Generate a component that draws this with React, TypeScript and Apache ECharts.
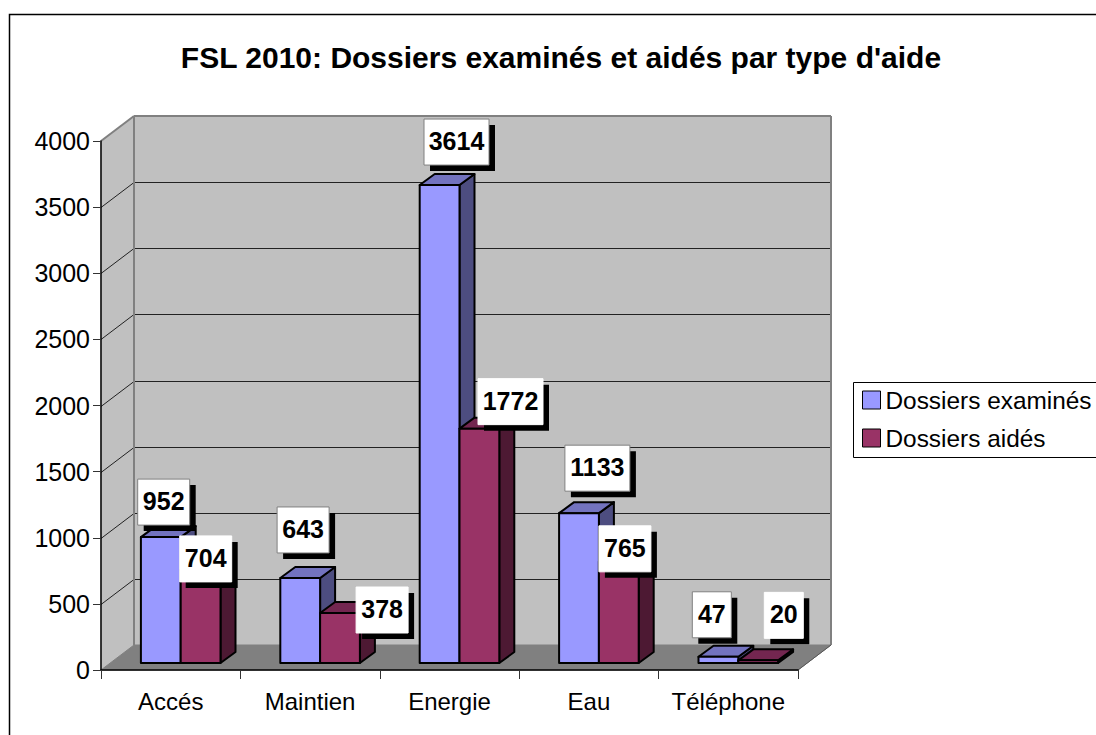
import React, { useEffect, useRef } from "react";
import * as echarts from "echarts";

const titleText = "FSL 2010: Dossiers examinés et aidés par type d'aide";
const categories = ["Accés", "Maintien", "Energie", "Eau", "Téléphone"];
const seriesNames = ["Dossiers examinés", "Dossiers aidés"];
const examined = [952, 643, 3614, 1133, 47];
const aided = [704, 378, 1772, 765, 20];
const yTicks = [500, 1000, 1500, 2000, 2500, 3000, 3500, 4000];

// Hand-placed data label boxes, relative to (category centre, value height)
const examinedLabelOffsets = [[-33, -65], [-33, -78], [-25.5, -73], [-24, -75], [-36, -72]];
const aidedLabelOffsets = [[9, -41], [46, -33], [28.5, -57], [10, -43], [36, -75]];

const FONT = '"Liberation Sans", Arial, sans-serif';
const WALL = [33, -25];
const BAR_FRONT = [10, -7];
const BAR_DEPTH = [15, -11];

const faces = [
  { front: "#9999FF", top: "#7373BF", side: "#4D4D80" },
  { front: "#993366", top: "#732650", side: "#4D1933" },
];

function poly(points: number[][], fill: string, stroke?: string, lineWidth = 1) {
  return {
    type: "polygon",
    shape: { points },
    style: { fill, stroke: stroke ?? fill, lineWidth, lineJoin: "round" },
  };
}

function line(a: number[], b: number[], stroke: string, lineWidth = 1) {
  return {
    type: "line",
    shape: { x1: a[0], y1: a[1], x2: b[0], y2: b[1] },
    style: { stroke, lineWidth },
  };
}

function renderFrame(_: any, api: any) {
  const size = api.size([1, 0])[0];
  const c0 = api.coord([0, 0]);
  const c4000 = api.coord([0, 4000]);
  const left = c0[0] - size / 2;
  const right = left + size * categories.length;
  const y0 = c0[1];
  const yTop = c4000[1];
  const [dx, dy] = WALL;
  const children: any[] = [
    poly([[left, y0], [left + dx, y0 + dy], [left + dx, yTop + dy], [left, yTop]], "#C0C0C0"),
    poly([[left + dx, y0 + dy], [right + dx, y0 + dy], [right + dx, yTop + dy], [left + dx, yTop + dy]], "#C0C0C0"),
    poly([[left, y0], [right, y0], [right + dx, y0 + dy], [left + dx, y0 + dy]], "#808080"),
  ];
  yTicks.forEach((t) => {
    if (t === 4000) return;
    const y = Math.round(api.coord([0, t])[1]) + 0.5;
    children.push(line([left, y], [left + dx, y + dy], "#222", 1));
    children.push(line([left + dx, y + dy], [right + dx, y + dy], "#222", 1));
  });
  children.push(line([left, yTop], [left + dx, yTop + dy], "#808080", 2));
  children.push(line([left + dx, yTop + dy], [right + dx, yTop + dy], "#808080", 2));
  children.push(line([left + dx, yTop + dy], [left + dx, y0 + dy], "#808080", 2));
  children.push(line([right + dx, yTop + dy], [right + dx, y0 + dy], "#808080", 2));
  children.push(line([right, y0], [right + dx, y0 + dy], "#555", 1));
  return { type: "group", children };
}

function renderBar(seriesIndex: number) {
  return (_: any, api: any) => {
    const idx = api.value(0);
    const val = api.value(1);
    const band = api.size([1, 0])[0];
    const w = band * 0.2855;
    const top = api.coord([idx, val]);
    const base = api.coord([idx, 0]);
    const x0 = top[0] + BAR_FRONT[0] - w + seriesIndex * w;
    const x1 = x0 + w;
    const yT = top[1] + BAR_FRONT[1];
    const yB = base[1] + BAR_FRONT[1];
    const [ddx, ddy] = BAR_DEPTH;
    const f = faces[seriesIndex];
    return {
      type: "group",
      children: [
        poly([[x1, yT], [x1 + ddx, yT + ddy], [x1 + ddx, yB + ddy], [x1, yB]], f.side, "#000", 2),
        poly([[x0, yT], [x1, yT], [x1 + ddx, yT + ddy], [x0 + ddx, yT + ddy]], f.top, "#000", 2),
        poly([[x0, yT], [x1, yT], [x1, yB], [x0, yB]], f.front, "#000", 2),
      ],
    };
  };
}

function renderLabel(offsets: number[][], border: string) {
  return (_: any, api: any) => {
    const idx = api.value(0);
    const val = api.value(1);
    const p = api.coord([idx, val]);
    const text = String(val);
    const w = 13 * text.length + 13;
    const h = 46;
    const x = p[0] + offsets[idx][0];
    const y = p[1] + offsets[idx][1];
    return {
      type: "group",
      children: [
        { type: "rect", shape: { x: x + 6, y: y + 6, width: w, height: h }, style: { fill: "#000" } },
        { type: "rect", shape: { x, y, width: w, height: h }, style: { fill: "#fff", stroke: border, lineWidth: 1 } },
        {
          type: "text",
          x: x + w / 2,
          y: y + h / 2 - 1,
          style: {
            text,
            fill: "#000",
            font: `bold 25px ${FONT}`,
            align: "center",
            verticalAlign: "middle",
          },
        },
      ],
    };
  };
}

const pairs = (values: number[]) => values.map((v, i) => [i, v]);

export default function App() {
  const ref = useRef<HTMLDivElement>(null);
  useEffect(() => {
    const chart = echarts.init(ref.current!, undefined, { renderer: "svg" });
    chart.setOption({
      animation: false,
      backgroundColor: "#fff",
      title: {
        text: titleText,
        left: 556,
        top: 37,
        textAlign: "center",
        textStyle: { fontFamily: FONT, fontWeight: "bold", fontSize: 30, color: "#000" },
      },
      grid: { left: 101, top: 141, width: 697, height: 529, containLabel: false },
      xAxis: {
        type: "category",
        data: categories,
        z: 5,
        axisLine: { lineStyle: { color: "#000", width: 1.5 } },
        axisTick: { show: true, length: 9, interval: 0, alignWithLabel: false, lineStyle: { color: "#333" } },
        axisLabel: { fontFamily: FONT, fontSize: 24, color: "#000", margin: 19, interval: 0 },
      },
      yAxis: {
        type: "value",
        min: 0,
        max: 4000,
        interval: 500,
        z: 5,
        splitLine: { show: false },
        axisLine: { show: true, lineStyle: { color: "#000", width: 1.5 } },
        axisTick: { show: true, length: 8, lineStyle: { color: "#333" } },
        axisLabel: {
          fontFamily: FONT,
          fontSize: 25,
          color: "#000",
          margin: 11,
          formatter: (v: number) => String(v),
        },
      },
      legend: {
        left: 857,
        top: 383,
        orient: "vertical",
        itemWidth: 18,
        itemHeight: 18,
        itemGap: 14,
        icon: "rect",
        selectedMode: false,
        data: seriesNames.map((name, i) => ({
          name,
          itemStyle: { color: faces[i].front, borderColor: "#000", borderWidth: 1 },
        })),
        textStyle: { fontFamily: FONT, fontSize: 24.4, color: "#000" },
      },
      graphic: [
        {
          type: "rect",
          z: 0,
          shape: { x: 9.5, y: 14.5, width: 1200, height: 800 },
          style: { fill: "transparent", stroke: "#000", lineWidth: 1.5 },
        },
        {
          type: "rect",
          z: 0,
          shape: { x: 853.5, y: 382.5, width: 400, height: 75 },
          style: { fill: "#fff", stroke: "#000", lineWidth: 1 },
        },
      ],
      series: [
        {
          type: "custom",
          name: "frame",
          z: 1,
          silent: true,
          data: [[0, 0]],
          renderItem: renderFrame,
        },
        {
          type: "custom",
          name: seriesNames[0],
          z: 2,
          itemStyle: { color: faces[0].front },
          data: pairs(examined),
          encode: { x: 0, y: 1 },
          renderItem: renderBar(0),
        },
        {
          type: "custom",
          name: seriesNames[1],
          z: 3,
          itemStyle: { color: faces[1].front },
          data: pairs(aided),
          encode: { x: 0, y: 1 },
          renderItem: renderBar(1),
        },
        {
          type: "custom",
          name: "labels1",
          z: 6,
          data: pairs(examined),
          encode: { x: 0, y: 1 },
          renderItem: renderLabel(examinedLabelOffsets, "#808080"),
        },
        {
          type: "custom",
          name: "labels2",
          z: 7,
          data: pairs(aided),
          encode: { x: 0, y: 1 },
          renderItem: renderLabel(aidedLabelOffsets, "#ffffff"),
        },
      ],
    });
    return () => chart.dispose();
  }, []);
  return (
    <div
      ref={ref}
      style={{ position: "absolute", left: 0, top: 0, width: 1096, height: 735, overflow: "hidden" }}
    />
  );
}
